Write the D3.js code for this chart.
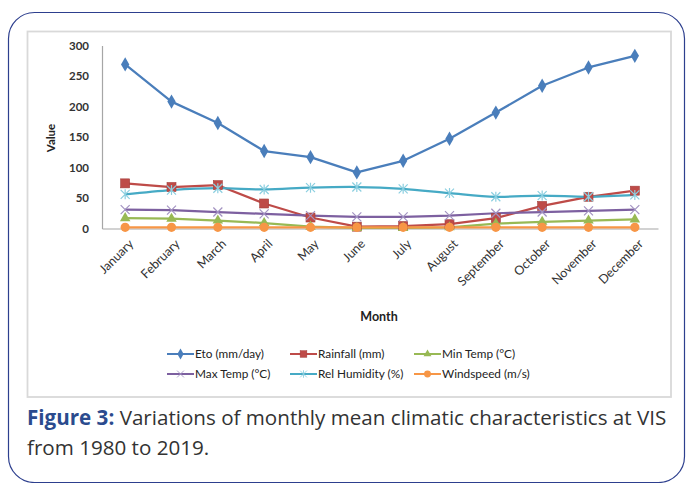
<!DOCTYPE html>
<html>
<head>
<meta charset="utf-8">
<script src="https://cdn.jsdelivr.net/npm/d3@7/dist/d3.min.js"></script>
<style>
  html, body { margin: 0; padding: 0; background: #fff; }
  svg { display: block; font-family: Lato, "Open Sans", sans-serif; }
</style>
</head>
<body>
<svg id="chart" width="686" height="483"></svg>
<script>
// ---- data ----
const months = ["January","February","March","April","May","June","July","August","September","October","November","December"];
const eto      = [269, 208, 173, 127, 117, 92, 111, 147, 190, 234, 264, 283];
const rainfall = [74, 68, 71, 41, 18, 3, 4, 7, 17, 37, 52, 62];
const minTemp  = [17, 16, 13, 9, 3, 1, 1, 2, 8, 11, 13, 15];
const maxTemp  = [31, 30, 27, 24, 21, 19, 19, 21, 25, 27, 29, 31];
const relHum   = [56, 63, 66, 64, 67, 68, 65, 58, 52, 54, 52, 55];
const windspeed= [2, 2, 2, 2, 2, 2, 2, 2, 2, 2, 2, 2];
const yTicks   = [0, 50, 100, 150, 200, 250, 300];
const seriesNames = ["Eto (mm/day)", "Rainfall (mm)", "Min Temp (°C)", "Max Temp (°C)", "Rel Humidity (%)", "Windspeed (m/s)"];

const series = [
  {name: seriesNames[0], values: eto,       color: "#4A7EBB", marker: "diamond"},
  {name: seriesNames[1], values: rainfall,  color: "#BE4B48", marker: "square"},
  {name: seriesNames[2], values: minTemp,   color: "#98B954", marker: "triangle"},
  {name: seriesNames[3], values: maxTemp,   color: "#7D60A0", marker: "x", mcolor: "#a393c2"},
  {name: seriesNames[4], values: relHum,    color: "#46AAC5", marker: "star", mcolor: "#8ccfe0", smooth: true},
  {name: seriesNames[5], values: windspeed, color: "#F79646", marker: "circle"}
];

const svg = d3.select("#chart");

// outer rounded frame
svg.append("rect").attr("x", 8.5).attr("y", 12.5).attr("width", 676).attr("height", 470)
  .attr("rx", 26).attr("ry", 26).attr("fill", "none").attr("stroke", "#2d3f8e").attr("stroke-width", 1.2);

// inner chart box
svg.append("rect").attr("x", 27.5).attr("y", 31.5).attr("width", 643.5).attr("height", 365.5)
  .attr("fill", "#fff").attr("stroke", "#d9d9d9").attr("stroke-width", 1.8);

const x = d3.scaleBand().domain(months).range([102, 658]);
const y = d3.scaleLinear().domain([0, 300]).range([228.5, 45.5]);
const cx = m => x(m) + x.bandwidth() / 2;

// y axis
const yAxis = svg.append("g").attr("transform", "translate(102,0)")
  .call(d3.axisLeft(y).tickValues(yTicks).tickSize(0).tickPadding(13));
yAxis.select(".domain").attr("stroke", "#a6a6a6").attr("stroke-width", 1.2);
yAxis.selectAll("text").style("font-family", "Lato, sans-serif").style("font-size", "11.5px")
  .style("font-weight", "bold").attr("fill", "#333");

// x axis
const xAxis = svg.append("g").attr("transform", "translate(0,228.5)")
  .call(d3.axisBottom(x).tickSize(0).tickFormat(d => d));
xAxis.select(".domain").attr("stroke", "#a6a6a6").attr("stroke-width", 1.2);
xAxis.selectAll("text")
  .style("font-family", "Lato, sans-serif").style("font-size", "12.5px").attr("fill", "#333")
  .attr("text-anchor", "end")
  .attr("x", 0).attr("y", 0).attr("dy", "0.35em")
  .attr("transform", "translate(6,13) rotate(-45)");

// axis titles
svg.append("text").attr("transform", "translate(55,138) rotate(-90)")
  .attr("text-anchor", "middle").style("font-size", "11.5px").style("font-weight", "bold").attr("fill", "#222")
  .text("Value");
svg.append("text").attr("x", 379).attr("y", 321)
  .attr("text-anchor", "middle").style("font-size", "12.5px").style("font-weight", "bold").attr("fill", "#222")
  .text("Month");

function drawMarker(g, type, color, mcolor) {
  switch (type) {
    case "diamond":
      g.append("path").attr("d", d3.symbol(d3.symbolDiamond, 60)()).attr("fill", color);
      break;
    case "square":
      g.append("rect").attr("x", -4.5).attr("y", -4.5).attr("width", 9).attr("height", 9)
        .attr("fill", color).attr("stroke", "#a33e3b").attr("stroke-width", 0.6);
      break;
    case "triangle":
      g.append("path").attr("d", d3.symbol(d3.symbolTriangle, 48)()).attr("fill", color);
      break;
    case "x":
      g.append("path").attr("d", "M-4.5,-4.5L4.5,4.5M-4.5,4.5L4.5,-4.5")
        .attr("stroke", mcolor || color).attr("stroke-width", 1.2).attr("fill", "none");
      break;
    case "star":
      g.append("path").attr("d", "M-4.5,-4.5L4.5,4.5M-4.5,4.5L4.5,-4.5M0,-5L0,5")
        .attr("stroke", mcolor || color).attr("stroke-width", 1.2).attr("fill", "none");
      break;
    case "circle":
      g.append("circle").attr("r", 4.6).attr("fill", color);
      break;
  }
}

// series lines + markers
series.forEach(s => {
  const line = d3.line()
    .x((d, i) => cx(months[i]))
    .y(d => y(d))
    .curve(s.smooth ? d3.curveCatmullRom.alpha(0.5) : d3.curveLinear);
  svg.append("path").datum(s.values).attr("d", line)
    .attr("fill", "none").attr("stroke", s.color).attr("stroke-width", 2.25)
    .attr("stroke-linejoin", "round");
});
series.forEach(s => {
  s.values.forEach((v, i) => {
    const g = svg.append("g").attr("transform", `translate(${cx(months[i])},${y(v)})`);
    drawMarker(g, s.marker, s.color, s.mcolor);
  });
});

// legend
const legendCols = [167, 290, 414];
const legendRows = [354, 374];
series.forEach((s, i) => {
  const lx = legendCols[i % 3], ly = legendRows[Math.floor(i / 3)];
  const g = svg.append("g").attr("transform", `translate(${lx},${ly})`);
  g.append("line").attr("x1", 0).attr("x2", 27).attr("y1", 0).attr("y2", 0)
    .attr("stroke", s.color).attr("stroke-width", 2);
  const mg = g.append("g").attr("transform", "translate(13.5,0) scale(0.75)");
  drawMarker(mg, s.marker, s.color, s.mcolor);
  g.append("text").attr("x", 28).attr("y", 0).attr("dy", "0.35em")
    .style("font-size", "11.8px").attr("fill", "#222").text(s.name);
});

// caption
const cap = svg.append("text").attr("x", 27).attr("y", 425)
  .style("font-family", "'Open Sans', sans-serif").style("font-size", "20.6px").attr("fill", "#333");
cap.append("tspan").style("font-weight", "bold").attr("fill", "#2b4b8e").text("Figure 3:");
cap.append("tspan").text(" Variations of monthly mean climatic characteristics at VIS");
svg.append("text").attr("x", 27).attr("y", 455)
  .style("font-family", "'Open Sans', sans-serif").style("font-size", "20.6px").attr("fill", "#333")
  .text("from 1980 to 2019.");
</script>
</body>
</html>
